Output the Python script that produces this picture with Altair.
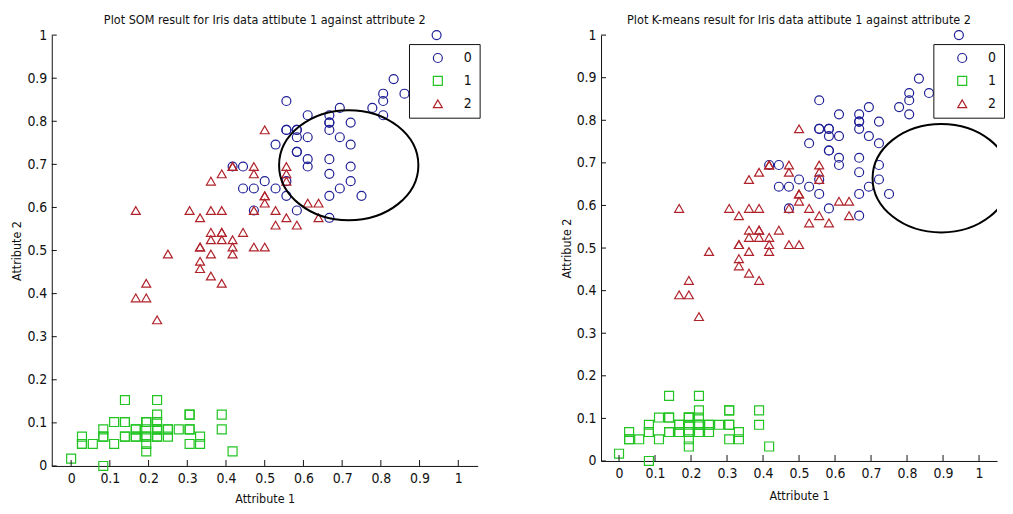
import altair as alt
import pandas as pd

FONT = "Liberation Sans Narrow, DejaVu Sans Condensed, Arial Narrow, sans-serif"
INK = "#111111"

# ---- data (normalised attribute 1 / attribute 2) ----
classes = ["0", "1", "2"]
class_colors = ["#1f1f96", "#22c422", "#b0222a"]
class_shapes = ["circle", "square", "triangle-up"]

c0_x = [0.750, 0.583, 0.722, 0.556, 0.667, 0.444, 0.556, 0.694, 0.667, 0.667, 0.472,
        0.556, 0.778, 0.556, 0.611, 0.917, 0.833, 0.667, 0.806, 0.611, 0.583,
        0.694, 0.417, 0.583, 0.611, 0.944, 0.944, 0.722, 0.944, 0.667, 0.806,
        0.528, 0.500, 0.583, 0.806, 0.861, 1.000, 0.583, 0.944, 0.556, 0.583,
        0.472, 0.722, 0.667, 0.722, 0.694, 0.667, 0.667, 0.611, 0.528, 0.444]
c0_y = [0.627, 0.593, 0.661, 0.627, 0.576, 0.644, 0.661, 0.644, 0.678, 0.627, 0.593,
        0.847, 0.831, 0.780, 0.814, 0.949, 0.898, 0.814, 0.864, 0.695, 0.729,
        0.763, 0.695, 0.729, 0.763, 0.966, 1.000, 0.797, 0.966, 0.797, 0.847,
        0.644, 0.661, 0.780, 0.814, 0.864, 0.915, 0.780, 0.864, 0.780, 0.763,
        0.644, 0.746, 0.780, 0.695, 0.831, 0.797, 0.712, 0.712, 0.746, 0.695]

c1_x = [0.222, 0.167, 0.111, 0.083, 0.194, 0.306, 0.083, 0.194, 0.028, 0.167,
        0.306, 0.139, 0.139, 0.000, 0.417, 0.389, 0.306, 0.222, 0.389, 0.222,
        0.306, 0.222, 0.083, 0.222, 0.139, 0.194, 0.194, 0.250, 0.250, 0.111,
        0.139, 0.306, 0.250, 0.333, 0.167, 0.194, 0.333, 0.167, 0.028, 0.222,
        0.194, 0.056, 0.028, 0.194, 0.222, 0.139, 0.222, 0.083, 0.278, 0.194]
c1_y = [0.068, 0.068, 0.051, 0.085, 0.068, 0.119, 0.068, 0.085, 0.068, 0.085,
        0.085, 0.102, 0.068, 0.017, 0.034, 0.085, 0.051, 0.068, 0.119, 0.085,
        0.119, 0.085, 0.000, 0.119, 0.153, 0.102, 0.102, 0.085, 0.068, 0.102,
        0.102, 0.085, 0.085, 0.068, 0.085, 0.034, 0.051, 0.068, 0.051, 0.085,
        0.051, 0.051, 0.051, 0.102, 0.153, 0.068, 0.102, 0.068, 0.085, 0.068]

c2_x = [0.333, 0.611, 0.389, 0.167, 0.639, 0.250, 0.194, 0.444, 0.472, 0.500,
        0.361, 0.361, 0.417, 0.528, 0.361, 0.500, 0.500, 0.583, 0.639, 0.472,
        0.389, 0.333, 0.333, 0.417, 0.472, 0.306, 0.556, 0.361, 0.333, 0.333,
        0.500, 0.417, 0.194, 0.361, 0.389, 0.389, 0.528, 0.222, 0.389,
        0.417, 0.417, 0.167, 0.389, 0.472, 0.361, 0.556, 0.556, 0.500, 0.556]
c2_y = [0.508, 0.610, 0.593, 0.390, 0.610, 0.492, 0.424, 0.542, 0.508, 0.627,
        0.441, 0.593, 0.525, 0.593, 0.492, 0.508, 0.627, 0.559, 0.576, 0.593,
        0.424, 0.475, 0.458, 0.492, 0.695, 0.593, 0.576, 0.525, 0.508, 0.576,
        0.610, 0.508, 0.390, 0.542, 0.542, 0.542, 0.559, 0.339, 0.525,
        0.695, 0.695, 0.593, 0.678, 0.678, 0.661, 0.661, 0.695, 0.780, 0.678]

x_ticks = [0, 0.1, 0.2, 0.3, 0.4, 0.5, 0.6, 0.7, 0.8, 0.9, 1]
y_ticks = [0, 0.1, 0.2, 0.3, 0.4, 0.5, 0.6, 0.7, 0.8, 0.9, 1]

som_title = "Plot SOM result for Iris data attibute 1 against attribute 2"
km_title = "Plot K-means result for Iris data attibute 1 against attribute 2"
x_title = "Attribute 1"
y_title = "Attribute 2"

som_ellipse_centre = [0.717, 0.698]
km_ellipse_centre = [0.895, 0.664]

ELLIPSE = ("M 1 0 C 1 0.436 0.552 0.79 0 0.79 C -0.552 0.79 -1 0.436 -1 0 "
           "C -1 -0.436 -0.552 -0.79 0 -0.79 C 0.552 -0.79 1 -0.436 1 0 Z")


def points_frame():
    rows = []
    for cls, xs, ys in (("0", c0_x, c0_y), ("1", c1_x, c1_y), ("2", c2_x, c2_y)):
        for x, y in zip(xs, ys):
            rows.append({"x": x, "y": y, "cls": cls})
    return pd.DataFrame(rows)


def panel(title, centre, w, h, leg_x, leg_y, ell_w, x_title_pad):
    xs = alt.Scale(domain=[-0.05, 1.05], nice=False, zero=False)
    ys = alt.Scale(domain=[0, 1], nice=False, zero=False)
    x_axis = alt.Axis(values=x_ticks, format="~g", title=x_title, labelPadding=6,
                      titlePadding=x_title_pad)
    y_axis = alt.Axis(values=y_ticks, format="~g", title=y_title, labelPadding=5, titlePadding=3)
    x_enc = alt.X("x:Q", scale=xs, axis=x_axis)
    y_enc = alt.Y("y:Q", scale=ys, axis=y_axis)
    legend = alt.Legend(orient="none", legendX=leg_x, legendY=leg_y, title=None,
                        fillColor="white", strokeColor=INK, padding=7,
                        symbolOffset=15, labelOffset=19, rowPadding=9,
                        symbolSize=81, symbolStrokeWidth=1.2, labelFont=FONT,
                        labelFontSize=14, labelColor=INK, cornerRadius=0)
    pts = alt.Chart(points_frame()).mark_point(
        filled=False, size=81, strokeWidth=1.2, opacity=1
    ).encode(
        x=x_enc, y=y_enc,
        color=alt.Color("cls:N", scale=alt.Scale(domain=classes, range=class_colors), legend=legend),
        shape=alt.Shape("cls:N", scale=alt.Scale(domain=classes, range=class_shapes), legend=legend),
    )
    xt = alt.Chart(pd.DataFrame({"x": x_ticks})).mark_rule(color=INK, strokeWidth=1).encode(
        x=x_enc, y=alt.value(h - 6), y2=alt.value(h))
    yt = alt.Chart(pd.DataFrame({"y": y_ticks})).mark_rule(color=INK, strokeWidth=1).encode(
        y=y_enc, x=alt.value(0), x2=alt.value(5))
    ell = alt.Chart(pd.DataFrame({"x": [centre[0]], "y": [centre[1]]})).mark_point(
        shape=ELLIPSE, size=ell_w * ell_w, filled=False, color="black", strokeWidth=2,
        opacity=1, clip=True
    ).encode(x=x_enc, y=y_enc)
    return alt.layer(pts, xt, yt, ell).properties(
        width=w, height=h,
        title=alt.TitleParams(text=title, font=FONT, fontSize=12.6, fontWeight="normal",
                              color=INK, anchor="middle", frame="group", offset=2),
    )


left = panel(som_title, som_ellipse_centre, 428, 433, 359, 9, 140, 7)
right = panel(km_title, km_ellipse_centre, 398, 428, 334, 9, 138, 9)

chart = alt.hconcat(left, right, spacing=79).resolve_scale(
    color="independent", shape="independent"
).resolve_legend(
    color="independent", shape="independent"
).properties(
    padding={"left": 2, "top": 4, "right": 0, "bottom": 0}
).configure_view(stroke=None).configure_axis(
    grid=False, ticks=False, tickSize=0, domainColor=INK, domainWidth=1,
    labelFont=FONT, labelFontSize=14, labelColor=INK,
    titleFont=FONT, titleFontSize=12.5, titleFontWeight="normal", titleColor=INK,
)

chart.save("out.html", embed_options={"renderer": "svg", "actions": False})
